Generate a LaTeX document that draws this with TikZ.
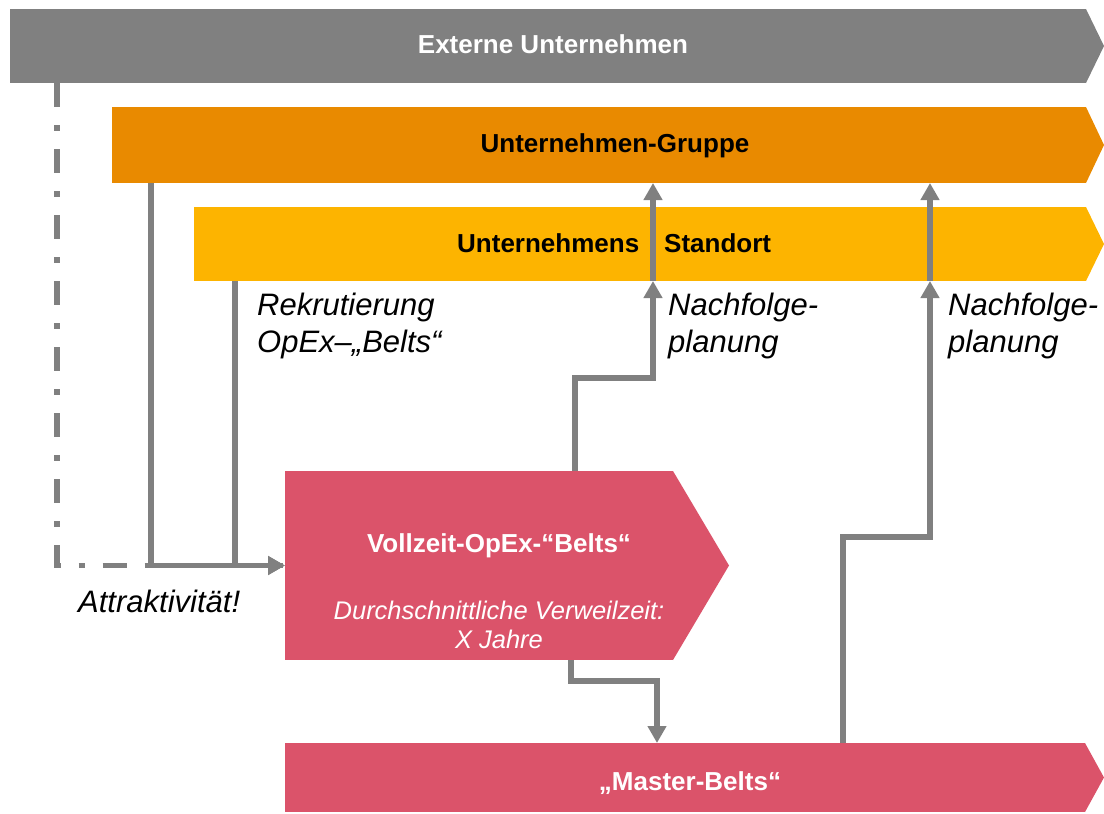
\documentclass[tikz,border=0pt]{standalone}
\usepackage{fontspec}
\setmainfont{Liberation Sans}
\usetikzlibrary{arrows.meta}
\definecolor{cgray}{HTML}{808080}
\definecolor{corange}{HTML}{E98A00}
\definecolor{cyellow}{HTML}{FDB400}
\definecolor{cred}{HTML}{DB536A}
\begin{document}
\begin{tikzpicture}[x=1pt,y=-1pt,
  bar/.style={rectangle, inner sep=0pt, outer sep=0pt, anchor=north west},
  boldtxt/.style={font=\fontsize{26}{30}\selectfont\bfseries, inner sep=0pt, anchor=base},
  itxt/.style={font=\fontsize{31}{37}\selectfont\itshape, inner sep=0pt, anchor=base west, align=left},
  conn/.style={draw=cgray, line width=5.5pt},
  arr/.style={conn, -{Triangle[width=18pt,length=17pt]}},
  dashdot/.style={conn, dash pattern=on 24pt off 18pt on 6pt off 18pt},
]
\useasboundingbox (0,0) rectangle (1104,814);
% bars
\node[bar, fill=cgray, minimum width=1076pt, minimum height=74pt] (ext) at (10,9) {};
\fill[cgray] (ext.north east) -- ([xshift=18pt]ext.east) -- (ext.south east) -- cycle;
\node[bar, fill=corange, minimum width=974pt, minimum height=76pt] (grp) at (112,107) {};
\fill[corange] (grp.north east) -- ([xshift=18pt]grp.east) -- (grp.south east) -- cycle;
\node[bar, fill=cyellow, minimum width=892pt, minimum height=74pt] (std) at (194,207) {};
\fill[cyellow] (std.north east) -- ([xshift=18pt]std.east) -- (std.south east) -- cycle;
\node[bar, fill=cred, minimum width=388pt, minimum height=189pt] (voll) at (285,471) {};
\fill[cred] (voll.north east) -- ([xshift=56pt]voll.east) -- (voll.south east) -- cycle;
\node[bar, fill=cred, minimum width=800pt, minimum height=69pt] (master) at (285,743) {};
\fill[cred] (master.north east) -- ([xshift=19pt]master.east) -- (master.south east) -- cycle;
% texts
\node[boldtxt, text=white] (t1) at (553,53) {Externe Unternehmen};
\node[boldtxt] (t2) at (615,152) {Unternehmen-Gruppe};
\node[boldtxt, anchor=base west] (t3) at (457,252) {Unternehmens\hspace{25pt}Standort};
\node[itxt] (t4) at (257,352) {Rekrutierung\\OpEx–„Belts“};
\node[itxt] (t5) at (668,352) {Nachfolge-\\planung};
\node[itxt] (t6) at (948,352) {Nachfolge-\\planung};
\node[itxt] (t7) at (78,612) {Attraktivität!};
\node[boldtxt, text=white] (t8) at (499,552) {Vollzeit-OpEx-“Belts“};
\node[font=\fontsize{25.5}{29}\selectfont\itshape, text=white, inner sep=0pt, anchor=base, align=center] (t9) at (499,648) {Durchschnittliche Verweilzeit:\\X Jahre};
\node[boldtxt, text=white] (t10) at (690,790) {„Master-Belts“};
% connectors
\draw[dashdot] ([xshift=47pt]ext.south west) |- (voll.west);
\draw[arr] ([xshift=39pt]grp.south west) |- (voll.west);
\draw[arr] ([xshift=41pt]std.south west) |- (voll.west);
\draw[arr] ([xshift=290pt]voll.north west) -- ++(0,-93) -| ([xshift=459pt]std.south west);
\draw[arr] ([xshift=459pt]std.south west) -- ([xshift=541pt]grp.south west);
\draw[arr] ([xshift=558pt]master.north west) -- ++(0,-206) -| ([xshift=736pt]std.south west);
\draw[arr] ([xshift=736pt]std.south west) -- ([xshift=818pt]grp.south west);
\draw[arr] ([xshift=286pt]voll.south west) -- ++(0,21) -| ([xshift=372pt]master.north west);
\end{tikzpicture}
\end{document}
